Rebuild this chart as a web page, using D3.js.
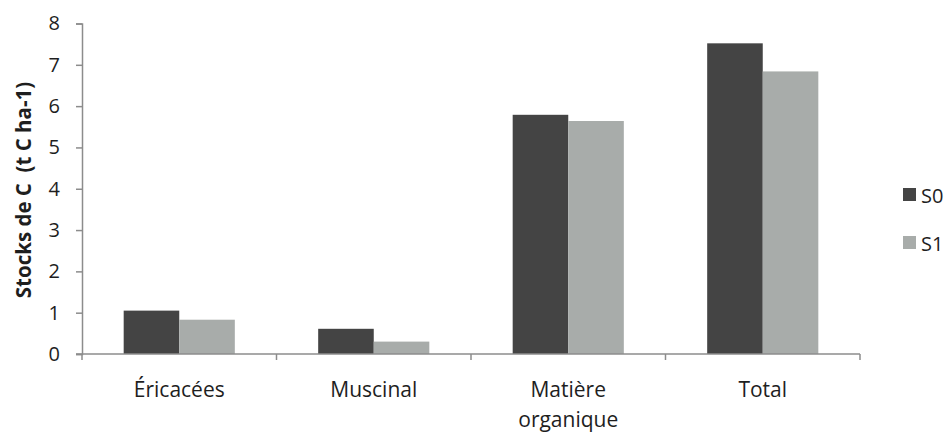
<!DOCTYPE html>
<html>
<head>
<meta charset="utf-8">
<script src="https://cdn.jsdelivr.net/npm/d3@7"></script>
<style>
  html, body { margin: 0; padding: 0; background: #fff; }
  svg { display: block; }
  text { font-family: "Open Sans", "Noto Sans", sans-serif; fill: #1e1e1e; }
</style>
</head>
<body>
<svg id="chart" width="951" height="433"></svg>
<script>
// Carbon stocks per compartment, two sampling dates
const categories = [["Éricacées"], ["Muscinal"], ["Matière", "organique"], ["Total"]];
const seriesNames = ["S0", "S1"];
const valuesS0 = [1.05, 0.61, 5.79, 7.52];
const valuesS1 = [0.83, 0.30, 5.64, 6.84];
const yTicks = [0, 1, 2, 3, 4, 5, 6, 7, 8];
const colors = ["#444444", "#a8acaa"];
const yTitle = "Stocks de C  (t C ha-1)";

const svg = d3.select("#chart");
const plotLeft = 82, plotRight = 860, plotTop = 23.5, plotBottom = 354;
const axisColor = "#8c8c8c";

const keys = categories.map(c => c.join(" "));
const x = d3.scaleBand().domain(keys).range([plotLeft, plotRight]).paddingInner(0).paddingOuter(0);
const y = d3.scaleLinear().domain([0, 8]).range([plotBottom, plotTop]);

// bars: two bars per category, gap of 150% bar width
const bw = x.bandwidth() / 3.5;
const data = keys.map((k, i) => ({ k, vals: [valuesS0[i], valuesS1[i]] }));
const g = svg.append("g");
data.forEach(d => {
  d.vals.forEach((v, j) => {
    g.append("rect")
      .attr("x", x(d.k) + bw * 0.75 + j * bw)
      .attr("y", y(v))
      .attr("width", bw)
      .attr("height", y(0) - y(v))
      .attr("fill", colors[j]);
  });
});

// y axis
const yAxis = d3.axisLeft(y).tickValues(yTicks).tickSize(6).tickPadding(16);
const ya = svg.append("g").attr("transform", `translate(${plotLeft},0)`).call(yAxis);
ya.select(".domain").attr("stroke", axisColor).attr("stroke-width", 1.5);
ya.selectAll(".tick line").attr("stroke", axisColor).attr("stroke-width", 1.5);
ya.selectAll(".tick text").attr("font-size", 20).attr("fill", "#1e1e1e")
  .attr("font-family", "'Open Sans', sans-serif");

// x axis with boundary ticks between categories
const xa = svg.append("g");
xa.append("line").attr("x1", plotLeft - 6).attr("x2", plotRight).attr("y1", plotBottom).attr("y2", plotBottom)
  .attr("stroke", axisColor).attr("stroke-width", 1.5);
const bounds = keys.map(k => x(k)).concat([plotRight]);
xa.selectAll("line.b").data(bounds).enter().append("line")
  .attr("x1", d => d).attr("x2", d => d).attr("y1", plotBottom).attr("y2", plotBottom + 6)
  .attr("stroke", axisColor).attr("stroke-width", 1.5);

categories.forEach((lines, i) => {
  const cx = x(keys[i]) + x.bandwidth() / 2;
  const t = svg.append("text")
    .attr("x", cx)
    .attr("y", 397)
    .attr("text-anchor", "middle")
    .attr("font-size", 21);
  lines.forEach((ln, li) => {
    t.append("tspan").attr("x", cx).attr("dy", li === 0 ? 0 : 30).text(ln);
  });
});

// y title
svg.append("text")
  .attr("transform", "translate(31,190) rotate(-90)")
  .attr("text-anchor", "middle")
  .attr("font-size", 20.5)
  .attr("font-weight", "bold")
  .style("white-space", "pre")
  .text(yTitle);

// legend
const lg = svg.append("g");
seriesNames.forEach((s, i) => {
  const yy = 195 + i * 48;
  lg.append("rect").attr("x", 903).attr("y", yy - 7).attr("width", 13).attr("height", 13)
    .attr("fill", colors[i]);
  lg.append("text").attr("x", 921).attr("y", yy + 7.5).attr("font-size", 20).text(s);
});
</script>
</body>
</html>
